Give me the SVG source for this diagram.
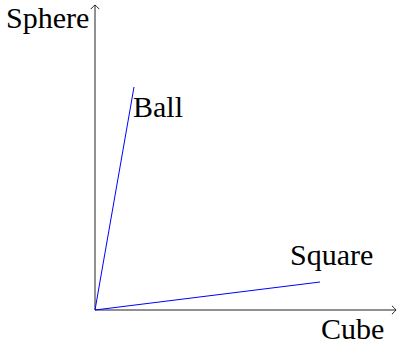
<svg xmlns="http://www.w3.org/2000/svg" width="397" height="346" viewBox="0 0 397 346">
<style>
.axis{stroke:#222;stroke-width:1;fill:none}
.vec{stroke:#0000ff;stroke-width:1;fill:none}
.lbl{font-family:"Liberation Serif","Times New Roman",serif;font-size:30px;fill:#000}
</style>
<defs>
<marker id="to" markerUnits="userSpaceOnUse" viewBox="-5 -5 6 10" refX="0" refY="0" markerWidth="6" markerHeight="10" orient="auto" overflow="visible">
<path d="M -3.8,-4 Q -0.6,-0.9 0,0 Q -0.6,0.9 -3.8,4" stroke="#222" stroke-width="1" fill="none" stroke-linecap="round"/>
</marker>
</defs>
<g id="connectors">
<line class="axis" x1="95" y1="310" x2="396" y2="310" marker-end="url(#to)"/>
<line class="axis" x1="95" y1="310" x2="95" y2="5" marker-end="url(#to)"/>
<line class="vec" x1="95" y1="310" x2="134" y2="87"/>
<line class="vec" x1="95" y1="310" x2="320" y2="282"/>
</g>
<g id="sphere"><text class="lbl" x="6" y="28">Sphere</text></g>
<g id="ball"><text class="lbl" x="133" y="117">Ball</text></g>
<g id="square"><text class="lbl" x="290" y="265">Square</text></g>
<g id="cube"><text class="lbl" x="321" y="339">Cube</text></g>
</svg>
